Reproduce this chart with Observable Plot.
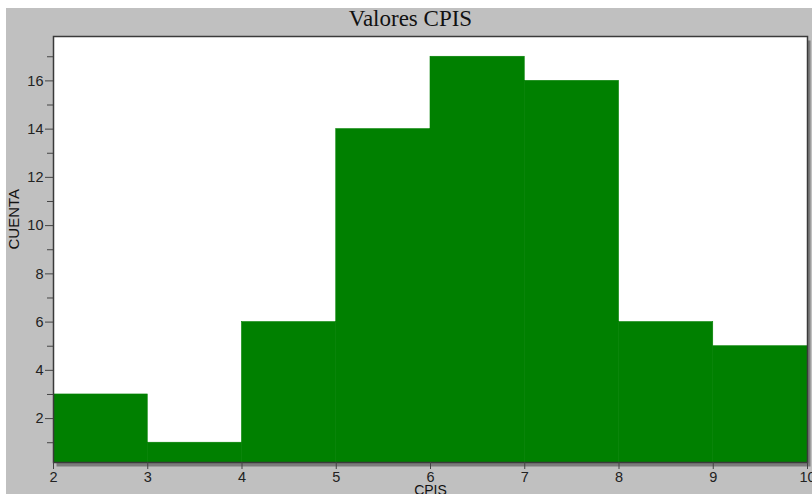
<!DOCTYPE html>
<html>
<head>
<meta charset="utf-8">
<script src="https://cdn.jsdelivr.net/npm/d3@7"></script>
<script src="https://cdn.jsdelivr.net/npm/@observablehq/plot@0.6"></script>
<style>
  html, body { margin: 0; padding: 0; background: #ffffff; }
  #chart { position: absolute; left: 6px; top: 8px; }
  #chart svg { display: block; }
  #chart svg g[aria-label$="tick label"] { font-size: 14.5px !important; }
</style>
</head>
<body>
<div id="chart"></div>
<script>
// Histogram of CPIS values: bin edges and counts per bin
const binEdges = [2, 3, 4, 5, 6, 7, 8, 9, 10];
const counts = [3, 1, 6, 14, 17, 16, 6, 5];

// Axis ticks
const xTicks = [2, 3, 4, 5, 6, 7, 8, 9, 10];
const yMajorTicks = [2, 4, 6, 8, 10, 12, 14, 16];
const yMinorTicks = [1, 3, 5, 7, 9, 11, 13, 15, 17];

const chartTitle = "Valores CPIS";
const xLabel = "CPIS";
const yLabel = "CUENTA";

const bins = counts.map((c, i) => ({x1: binEdges[i], x2: binEdges[i + 1], count: c}));

const chart = Plot.plot({
  width: 806,
  height: 486,
  marginLeft: 47,
  marginTop: 28,
  marginRight: 5,
  marginBottom: 32,
  style: {
    background: "#c0c0c0",
    color: "#222222",
    fontFamily: "'Liberation Sans', Arial, sans-serif",
    fontSize: "15px",
    overflow: "visible"
  },
  x: {domain: [2, 10]},
  y: {domain: [0.18, 17.84]},
  marks: [
    // drop shadow behind the plotting area
    Plot.frame({fill: "#7c7c7c", dx: 3, dy: 4}),
    Plot.frame({fill: "#ffffff"}),
    Plot.rectY(bins, {
      x1: "x1", x2: "x2", y1: 0, y2: "count",
      fill: "#008000", stroke: "#008000", strokeWidth: 0.6, clip: true
    }),
    Plot.frame({stroke: "#3a3a3a", strokeWidth: 1.5}),
    Plot.axisY(yMajorTicks, {tickSize: 8, tickPadding: 2, label: null, stroke: "#444"}),
    Plot.axisY(yMinorTicks, {tickSize: 6, tickFormat: () => "", label: null, stroke: "#444"}),
    Plot.axisX(xTicks, {tickSize: 7, tickPadding: 2, label: null, stroke: "#444"}),
    Plot.text([chartTitle], {
      text: d => d, frameAnchor: "top", lineAnchor: "middle", dx: -20, dy: -17.5,
      fontFamily: "'Liberation Serif', 'Times New Roman', serif", fontSize: 23, fill: "#111"
    }),
    Plot.text([yLabel], {
      text: d => d, frameAnchor: "left", rotate: -90, dx: -39, fontSize: 15, fill: "#111"
    }),
    Plot.text([xLabel], {
      text: d => d, frameAnchor: "bottom", lineAnchor: "middle", dy: 28.5, fontSize: 14, fill: "#111"
    })
  ]
});

document.getElementById("chart").append(chart);
</script>
</body>
</html>
